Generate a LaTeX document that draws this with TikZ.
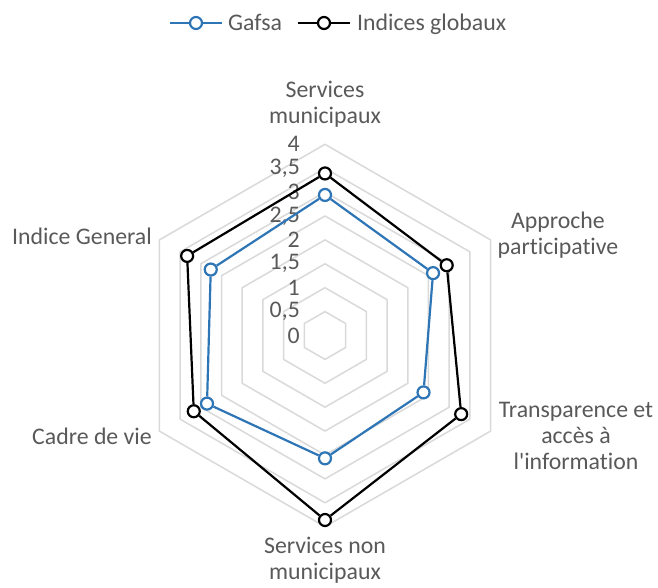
\documentclass[tikz,border=0pt]{standalone}
\usepackage{fontspec}
\newfontfamily\chartfont[Ligatures=NoCommon]{Carlito}
\usetikzlibrary{positioning}
\definecolor{gafsablue}{RGB}{46,117,182}
\definecolor{gridgray}{RGB}{217,217,217}
\definecolor{textgray}{RGB}{89,89,89}
\tikzset{
	ring/.style={draw=gridgray, line width=1.5pt, line join=round},
	serie/.style={line width=2.2pt, line join=round},
	marker/.style={circle, draw, fill=white, line width=2.2pt, minimum size=12pt, inner sep=0pt},
	lbl/.style={text=textgray, font=\chartfont\fontsize{23.8}{26}\selectfont, align=center, inner sep=0pt}
}
\begin{document}
\begin{tikzpicture}[x=47.8pt,y=47.8pt]
				\useasboundingbox (-325pt,-252.5pt) rectangle (333pt,335.5pt);
				%Grid rings, one every 0.5
				\foreach \r in {0.5,1,...,4} {
					\draw[ring] (90:\r) -- (30:\r) -- (-30:\r) -- (-90:\r) -- (210:\r) -- (150:\r) -- cycle;
				}
				%Values on the vertical axis
				\foreach \v/\t [count=\i] in {0/0,0.5/{0,5},1/1,1.5/{1,5},2/2,2.5/{2,5},3/3,3.5/{3,5},4/4} {
					\node[lbl, anchor=east] (tick\i) at ([xshift=-25pt]0,\v) {\t};
				}
				%Axis titles
				\node[lbl] (smun) at (0pt,231pt) {Services\\municipaux};
				\node[lbl] (appr) at (233pt,100pt) {Approche\\participative};
				\node[lbl] (trans) at (251pt,-100.5pt) {Transparence et\\accès à\\l'information};
				\node[lbl] (snon) at (0pt,-225pt) {Services non\\municipaux};
				\node[lbl, anchor=east] (cadre) at (-173pt,-100.5pt) {Cadre de vie};
				\node[lbl, anchor=east] (indice) at (-173pt,99.5pt) {Indice General};
				%Gafsa
				\foreach \a/\v [count=\i] in {90/2.94,30/2.61,-30/2.38,-90/2.57,210/2.85,150/2.76} {
					\node[marker, draw=gafsablue] (g\i) at (\a:\v) {};
				}
				\draw[serie, gafsablue] (g1) -- (g2) -- (g3) -- (g4) -- (g5) -- (g6) -- (g1);
				%Indices globaux
				\foreach \a/\v [count=\i] in {90/3.39,30/2.94,-30/3.29,-90/3.86,210/3.17,150/3.33} {
					\node[marker, draw=black] (b\i) at (\a:\v) {};
				}
				\draw[serie, black] (b1) -- (b2) -- (b3) -- (b4) -- (b5) -- (b6) -- (b1);
				%Legend
				\coordinate (lgA) at (-155pt,312.5pt);
				\coordinate (lgB) at (-103pt,312.5pt);
				\node[marker, draw=gafsablue] (lgG) at (-129pt,312.5pt) {};
				\draw[serie, gafsablue] (lgA) -- (lgG) -- (lgB);
				\node[lbl, anchor=base west] (lgGtxt) at (-97pt,304.5pt) {Gafsa};
				\coordinate (lgC) at (-27pt,312.5pt);
				\coordinate (lgD) at (25pt,312.5pt);
				\node[marker, draw=black] (lgI) at (-1pt,312.5pt) {};
				\draw[serie, black] (lgC) -- (lgI) -- (lgD);
				\node[lbl, anchor=base west] (lgItxt) at (32pt,304.5pt) {Indices globaux};
\end{tikzpicture}
\end{document}
